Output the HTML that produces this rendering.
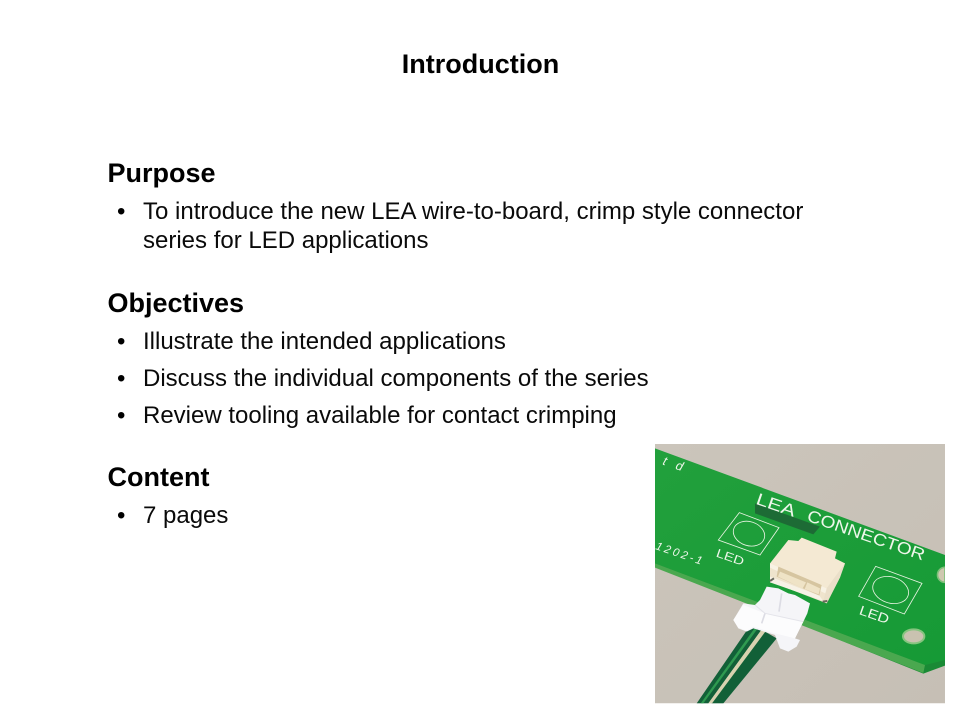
<!DOCTYPE html>
<html><head><meta charset="utf-8"><style>
html,body{margin:0;padding:0;background:#fff}
#p{position:relative;width:960px;height:720px;overflow:hidden;font-family:"Liberation Sans",Arial,sans-serif;color:#000}
.t{position:absolute;white-space:nowrap;line-height:30px}
.h{font-size:27px;font-weight:bold;left:107.5px}
.b{font-size:24px;left:143px;color:#0a0a0a}
.d{font-size:24px;left:117px}
svg{position:absolute;left:0;top:0}
</style></head><body><div id="p">
<div class="t h" style="left:0.5px;width:960px;text-align:center;top:49px">Introduction</div>
<div class="t h" style="top:158px">Purpose</div>
<div class="t d" style="top:197px">•</div><div class="t b" style="top:197px">To introduce the new LEA wire-to-board, crimp style connector</div>
<div class="t b" style="top:226px">series for LED applications</div>
<div class="t h" style="top:288px">Objectives</div>
<div class="t d" style="top:327px">•</div><div class="t b" style="top:327px">Illustrate the intended applications</div>
<div class="t d" style="top:364px">•</div><div class="t b" style="top:364px">Discuss the individual components of the series</div>
<div class="t d" style="top:401px">•</div><div class="t b" style="top:401px">Review tooling available for contact crimping</div>
<div class="t h" style="top:462px">Content</div>
<div class="t d" style="top:501px">•</div><div class="t b" style="top:501px">7 pages</div>
<svg width="960" height="720" viewBox="0 0 960 720">
<defs><clipPath id="c"><rect x="45" y="27" width="870" height="778"/></clipPath>
<linearGradient id="bg" x1="0" y1="0" x2="1" y2="1"><stop offset="0" stop-color="#cbc5bb"/><stop offset="1" stop-color="#c6bfb5"/></linearGradient>
<linearGradient id="g" x1="0" y1="0" x2="1" y2="1"><stop offset="0" stop-color="#22a03c"/><stop offset="1" stop-color="#169a36"/></linearGradient></defs>
<g transform="translate(640,435) scale(.33333)"><g clip-path="url(#c)">
<rect x="45" y="27" width="870" height="778" fill="url(#bg)"/>
<polygon points="45,392 850,716 915,692 915,660 45,370" fill="#1a8a35"/>
<polygon points="45,40 915,360 915,675 855,690 45,385" fill="url(#g)"/>
<polygon points="45,385 855,690 850,714 45,398" fill="#4aa84f"/>
<polygon points="345,205 540,275 520,298 345,235" fill="#1d6b35"/>
<path d="M915,397a22,22 0 0 0 0,45z" fill="#cfc8b0" stroke="#7fc07a" stroke-width="5"/>
<ellipse cx="821" cy="604" rx="32" ry="21" fill="#c9c2b0" stroke="#86c47f" stroke-width="6"/>
<g fill="none" stroke="#e8f3e2" stroke-width="2.5">
<polygon points="298,233 417,278 360,360 235,315"/><ellipse cx="327" cy="296" rx="48" ry="36" transform="rotate(18 327 296)"/>
<polygon points="707,394 846,445 793,537 656,484"/><ellipse cx="752" cy="465" rx="55" ry="39" transform="rotate(18 752 465)"/>
</g>
<g fill="#eef6ea" font-family="'Liberation Sans',sans-serif">
<text x="345" y="206" font-size="50" transform="rotate(19 345 206)" textLength="122" lengthAdjust="spacingAndGlyphs">LEA</text>
<text x="498" y="256" font-size="50" transform="rotate(19 498 256)" textLength="370" lengthAdjust="spacingAndGlyphs">CONNECTOR</text>
<text x="226" y="364" font-size="36" transform="rotate(19 226 364)" textLength="86" lengthAdjust="spacingAndGlyphs">LED</text>
<text x="655" y="537" font-size="40" transform="rotate(19 655 537)" textLength="92" lengthAdjust="spacingAndGlyphs">LED</text>
<text x="66" y="88" font-size="38" font-style="italic" transform="rotate(19 66 88)" textLength="62">t d</text>
<text x="45" y="342" font-size="34" font-style="italic" transform="rotate(19 45 342)" textLength="145">1202-1</text>
</g>
<polygon points="335,565 368,580 205,805 170,805" fill="#126038"/>
<polygon points="375,590 410,610 250,805 214,805" fill="#126038"/>
<polygon points="366,582 376,590 216,805 205,805" fill="#d8d2b0"/>
<polygon points="345,578 352,582 190,805 182,805" fill="#2f9a50"/>
</g></g>
<g transform="translate(720,525) scale(.33333)">
<polygon points="150,170 320,235 360,155 375,115 150,115" fill="#efe4cd"/>
<polygon points="150,115 205,45 235,48 245,38 350,80 345,100 375,115 320,190" fill="#f4e9d3"/>
<polygon points="320,190 375,115 360,158 322,232 310,228" fill="#eadfc9"/>
<polygon points="150,115 320,190 316,205 150,128" fill="#f8f2e4"/>
<polygon points="175,125 305,180 298,212 170,155" fill="#d6c5a0"/>
<polygon points="180,140 258,172 248,190 174,155" fill="#efe3c6"/>
<polygon points="262,172 300,190 296,208 254,192" fill="#efe3c6"/>
<polygon points="150,155 298,212 310,228 150,172" fill="#f7f2e6"/>
<path d="M150,168l12,-8M308,230l14,-2" stroke="#6a6a5e" stroke-width="6" fill="none"/>
<polygon points="140,185 175,190 205,205 225,210 270,235 262,265 250,290 225,340 240,345 230,365 205,380 180,370 165,330 100,310 80,320 55,310 40,285 70,235 105,240 120,225" fill="#f5f5f8"/>
<polygon points="70,240 135,265 250,290 225,340 165,325 100,305 80,318 55,308 40,285" fill="#fcfcfd"/>
<path d="M185,205l-8,55M135,265l-10,30" stroke="#dcdce4" stroke-width="5" fill="none"/>
<path d="M105,240l30,25 115,25" stroke="#e4e4ea" stroke-width="3" fill="none"/>
</g>
</svg>
</div></body></html>
